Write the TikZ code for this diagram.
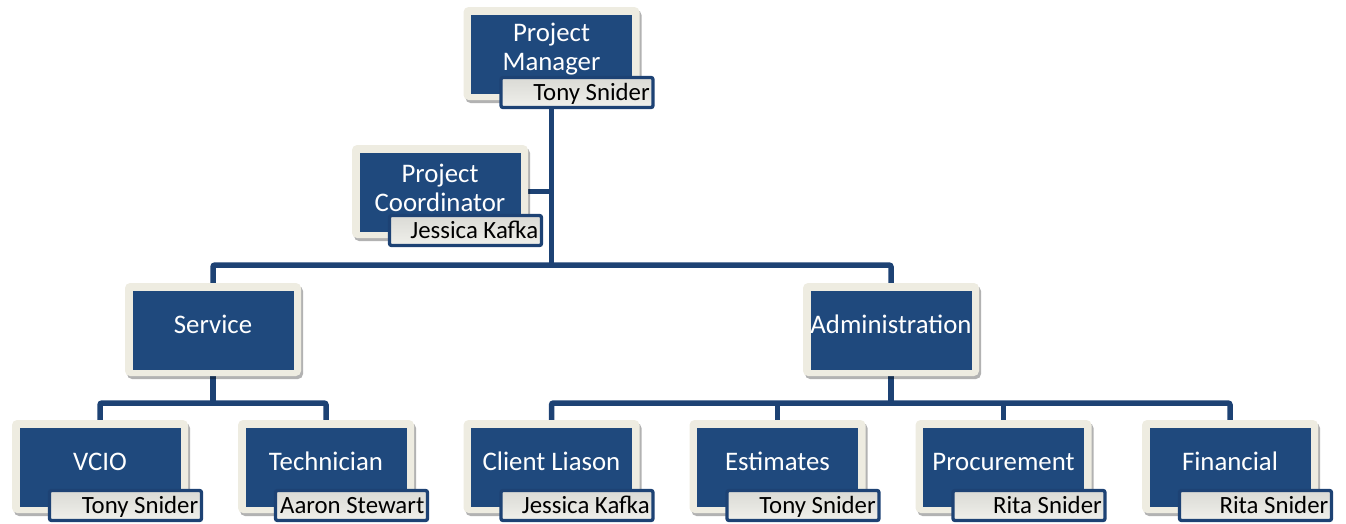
\documentclass[tikz,border=0pt]{standalone}
\usepackage{fontspec}
\setmainfont{Carlito}
\usetikzlibrary{shadows,backgrounds,calc}
\definecolor{boxblue}{HTML}{1F497D}
\definecolor{creamc}{HTML}{EEECE1}
\definecolor{linec}{HTML}{1D4274}
\definecolor{tagtop}{HTML}{DADAD5}
\definecolor{tagbot}{HTML}{F0F0EB}
\tikzset{
  cream/.style={fill=creamc, rounded corners=5pt, minimum width=176pt, minimum height=93pt, inner sep=0pt,
    drop shadow={shadow xshift=2pt, shadow yshift=-3pt, opacity=0.3, fill=black}},
  bluebox/.style={fill=boxblue, minimum width=161pt, minimum height=79pt, inner sep=0pt},
  nametag/.style={draw=linec, line width=3.3pt, rounded corners=2pt, top color=tagtop, bottom color=tagbot,
    minimum width=152pt, minimum height=30pt, inner sep=0pt},
  nametext/.style={font=\fontsize{24.8}{28}\selectfont, text=black, inner sep=0pt},
  maintext/.style={font=\fontsize{26.8}{29}\selectfont, text=white, inner sep=0pt, align=center},
  conn/.style={draw=linec, line width=5.5pt, rounded corners=2pt},
}
% #1 name, #2 cx, #3 top, #4 person
\newcommand\orgframe[4]{%
  \node[cream] (#1) at (#2, #3+46.5) {};
  \node[bluebox] (#1-b) at (#2, #3+47) {};
  \ifx\relax#4\relax\else
    \node[nametag] (#1-n) at (#2+25.5, #3+85.5) {};
    \node[nametext, anchor=base east] (#1-t) at (#2+98.5, #3+93) {#4};
  \fi
}
\begin{document}
\begin{tikzpicture}[x=1pt,y=-1pt]
\useasboundingbox (0,0) rectangle (1346,523);

% Project Manager
\orgframe{pm}{551.5}{7}{Tony Snider}
\node[maintext] (pm-l) at (551.5, 49.5) {Project\\Manager};
% Project Coordinator
\orgframe{pc}{440}{145}{Jessica Kafka}
\node[maintext] (pc-l) at (440, 187.5) {Project\\Coordinator};
% Service
\orgframe{svc}{213}{283}{}
\node[maintext, anchor=base] (svc-l) at (213, 333) {Service};
% Administration
\orgframe{adm}{891}{283}{}
\node[maintext, anchor=base] (adm-l) at (891, 333) {Administration};
% bottom row
\orgframe{vcio}{100}{420}{Tony Snider}
\node[maintext, anchor=base] (vcio-l) at (100, 470) {VCIO};
\orgframe{tech}{326}{420}{Aaron Stewart}
\node[maintext, anchor=base] (tech-l) at (326, 470) {Technician};
\orgframe{cl}{551.5}{420}{Jessica Kafka}
\node[maintext, anchor=base] (cl-l) at (551.5, 470) {Client Liason};
\orgframe{est}{777.5}{420}{Tony Snider}
\node[maintext, anchor=base] (est-l) at (777.5, 470) {Estimates};
\orgframe{proc}{1003.5}{420}{Rita Snider}
\node[maintext, anchor=base] (proc-l) at (1003.5, 470) {Procurement};
\orgframe{fin}{1230}{420}{Rita Snider}
\node[maintext, anchor=base] (fin-l) at (1230, 470) {Financial};

\coordinate (jtop) at (551.5, 265);
\coordinate (jmid) at (0, 403);

\begin{scope}[on background layer]
  \draw[conn] (pm.south) -- (jtop);
  \draw[conn] (pc.east) -- (pc.east -| jtop);
  \draw[conn] (svc.north) -- (svc.north |- jtop) -- (adm.north |- jtop) -- (adm.north);
  \draw[conn] (svc.south) -- (svc.south |- jmid);
  \draw[conn] (vcio.north) -- (vcio.north |- jmid) -- (tech.north |- jmid) -- (tech.north);
  \draw[conn] (adm.south) -- (adm.south |- jmid);
  \draw[conn] (cl.north) -- (cl.north |- jmid) -- (fin.north |- jmid) -- (fin.north);
  \draw[conn] (est.north) -- (est.north |- jmid);
  \draw[conn] (proc.north) -- (proc.north |- jmid);
\end{scope}
\end{tikzpicture}
\end{document}
